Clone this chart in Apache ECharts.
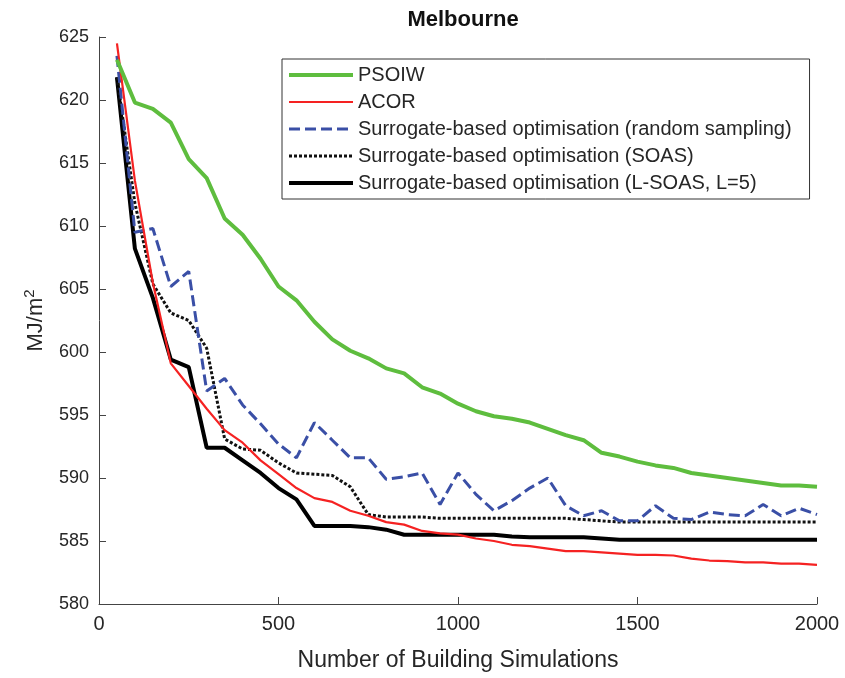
<!DOCTYPE html>
<html>
<head>
<meta charset="utf-8">
<script src="https://cdn.jsdelivr.net/npm/echarts@6/dist/echarts.min.js"></script>
<style>
  html, body { margin: 0; padding: 0; background: #fff; }
  #chart-container { width: 845px; height: 678px; }
</style>
</head>
<body>
<div id="chart-container"></div>
<script>
// number of building simulations
var xData = [50, 100, 150, 200, 250, 300, 350, 400, 450, 500,
  550, 600, 650, 700, 750, 800, 850, 900, 950, 1000,
  1050, 1100, 1150, 1200, 1250, 1300, 1350, 1400, 1450, 1500,
  1550, 1600, 1650, 1700, 1750, 1800, 1850, 1900, 1950, 2000];

var nameData = [
  "PSOIW",
  "ACOR",
  "Surrogate-based optimisation (random sampling)",
  "Surrogate-based optimisation (SOAS)",
  "Surrogate-based optimisation (L-SOAS, L=5)"
];

var psoiw = [623.2, 619.8, 619.3, 618.2, 615.3, 613.8, 610.6, 609.3, 607.4, 605.2,
  604.1, 602.4, 601.0, 600.1, 599.5, 598.7, 598.3, 597.2, 596.7, 595.9,
  595.3, 594.9, 594.7, 594.4, 593.9, 593.4, 593.0, 592.0, 591.7, 591.3,
  591.0, 590.8, 590.4, 590.2, 590.0, 589.8, 589.6, 589.4, 589.4, 589.3];

var acor = [624.5, 613.6, 605.5, 599.1, 597.3, 595.5, 593.8, 592.8, 591.4, 590.3,
  589.2, 588.4, 588.1, 587.4, 587.0, 586.5, 586.3, 585.8, 585.6, 585.5,
  585.2, 585.0, 584.7, 584.6, 584.4, 584.2, 584.2, 584.1, 584.0, 583.9,
  583.9, 583.85, 583.6, 583.45, 583.4, 583.3, 583.3, 583.2, 583.2, 583.1];

var randomSampling = [623.5, 609.5, 609.8, 605.2, 606.4, 596.9, 597.9, 595.8, 594.3, 592.7,
  591.6, 594.4, 593.0, 591.6, 591.6, 589.9, 590.1, 590.4, 587.9, 590.4,
  588.7, 587.4, 588.2, 589.2, 590.0, 587.8, 587.0, 587.4, 586.6, 586.6,
  587.8, 586.8, 586.7, 587.3, 587.1, 587.0, 587.9, 587.0, 587.6, 587.1];

var soas = [621.8, 611.8, 605.4, 603.1, 602.5, 600.3, 593.1, 592.3, 592.2, 591.2,
  590.4, 590.3, 590.2, 589.3, 587.1, 586.9, 586.9, 586.9, 586.8, 586.8,
  586.8, 586.8, 586.8, 586.8, 586.8, 586.8, 586.7, 586.6, 586.5, 586.5,
  586.5, 586.5, 586.5, 586.5, 586.5, 586.5, 586.5, 586.5, 586.5, 586.5];

var lsoas = [621.8, 608.2, 604.3, 599.4, 598.8, 592.4, 592.4, 591.4, 590.4, 589.2,
  588.3, 586.2, 586.2, 586.2, 586.1, 585.9, 585.5, 585.5, 585.5, 585.5,
  585.5, 585.5, 585.35, 585.3, 585.3, 585.3, 585.3, 585.2, 585.1, 585.1,
  585.1, 585.1, 585.1, 585.1, 585.1, 585.1, 585.1, 585.1, 585.1, 585.1];

function pairs(values) {
  return xData.map((x, i) => [x, values[i]]);
}

var font = "Liberation Sans, Arial, sans-serif";

var dom = document.getElementById("chart-container");
var myChart = echarts.init(dom, null, {
  renderer: "canvas",
  useDirtyRect: false
});

var styles = [
  { data: psoiw, color: "#5ebd3e", width: 4, type: "solid" },
  { data: acor, color: "#f52222", width: 2.2, type: "solid" },
  { data: randomSampling, color: "#3a4fa6", width: 3, type: [11, 5] },
  { data: soas, color: "#111111", width: 3, type: [3, 2] },
  { data: lsoas, color: "#000000", width: 4, type: "solid" }
];

var seriesData = styles.map((s, i) => ({
  name: nameData[i],
  type: "line",
  data: pairs(s.data),
  symbol: "none",
  color: s.color,
  lineStyle: { color: s.color, width: s.width, type: s.type },
  z: 10 - i
}));

var legendData = styles.map((s, i) => ({
  name: nameData[i],
  itemStyle: { opacity: 0 },
  lineStyle: { color: s.color, width: s.width, type: s.type }
}));

var option = {
  animation: false,
  textStyle: { fontFamily: font },
  title: {
    text: "Melbourne",
    left: 458,
    textAlign: "center",
    top: 4,
    textStyle: { fontFamily: font, fontSize: 22, fontWeight: "bold", color: "#111" }
  },
  legend: {
    data: legendData,
    orient: "vertical",
    left: 282,
    top: 59,
    padding: [6, 18, 6, 5],
    itemWidth: 64,
    itemHeight: 14,
    itemGap: 7,
    itemStyle: { opacity: 0 },
    borderColor: "#333",
    borderWidth: 1,
    backgroundColor: "#fff",
    textStyle: { fontFamily: font, fontSize: 20, color: "#262626", lineHeight: 20 }
  },
  grid: {
    left: 99,
    right: 28,
    top: 37,
    bottom: 74
  },
  xAxis: {
    type: "value",
    min: 0,
    max: 2000,
    interval: 500,
    name: "Number of Building Simulations",
    nameLocation: "middle",
    nameGap: 45,
    nameTextStyle: { fontFamily: font, fontSize: 23, color: "#262626" },
    axisLine: { lineStyle: { color: "#444", width: 1 } },
    axisTick: { inside: true, length: 7, lineStyle: { color: "#444" } },
    axisLabel: {
      fontFamily: font, fontSize: 20, color: "#262626", margin: 10,
      formatter: (v) => String(v)
    },
    splitLine: { show: false }
  },
  yAxis: {
    type: "value",
    min: 580,
    max: 625,
    interval: 5,
    name: "{a|MJ/m}{b|2}",
    nameLocation: "middle",
    nameGap: 50,
    nameTextStyle: {
      fontFamily: font, fontSize: 22, color: "#262626",
      rich: {
        a: { fontFamily: font, fontSize: 22, color: "#262626" },
        b: { fontFamily: font, fontSize: 15, color: "#262626", padding: [0, 0, 12, 0] }
      }
    },
    axisLine: { show: true, lineStyle: { color: "#444", width: 1 } },
    axisTick: { show: true, inside: true, length: 7, lineStyle: { color: "#444" } },
    axisLabel: { fontFamily: font, fontSize: 18, color: "#262626", margin: 10 },
    splitLine: { show: false }
  },
  series: seriesData
};

myChart.setOption(option);
window.addEventListener("resize", myChart.resize);
</script>
</body>
</html>
